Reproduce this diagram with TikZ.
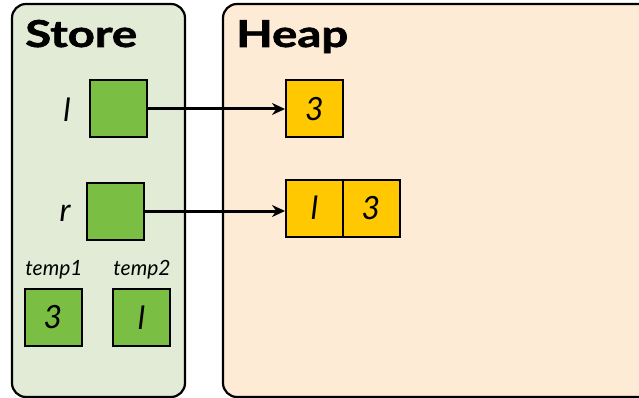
\documentclass[tikz,border=0pt]{standalone}
\usepackage{fontspec}
\setmainfont{Lato}[BoldFeatures={FakeBold=1.5}]
\usetikzlibrary{arrows.meta}
\definecolor{storebg}{HTML}{E1EBD6}
\definecolor{heapbg}{HTML}{FDEBD5}
\definecolor{cellgreen}{HTML}{7ABE43}
\definecolor{cellyellow}{HTML}{FFC800}
\tikzset{
  region/.style={draw=black, line width=2.2pt, rounded corners=14pt},
  title/.style={font=\fontsize{37}{40}\selectfont\bfseries, anchor=base west, inner sep=0pt, xscale=1.28, transform shape},
  var/.style={font=\fontsize{32}{36}\selectfont\itshape, inner sep=0pt},
  small/.style={font=\fontsize{21}{24}\selectfont\itshape, inner sep=0pt},
  gcell/.style={draw=black, line width=2pt, fill=cellgreen, minimum width=57pt, minimum height=57pt, inner sep=0pt, font=\fontsize{32}{36}\selectfont\itshape},
  ycell/.style={draw=black, line width=2pt, fill=cellyellow, minimum width=57pt, minimum height=57pt, inner sep=0pt, font=\fontsize{32}{36}\selectfont\itshape},
  ptr/.style={draw=black, line width=3pt, -{Stealth[length=13pt,width=12pt]}}
}
\begin{document}
\begin{tikzpicture}[x=1pt,y=-1pt]
\useasboundingbox (0,0) rectangle (639,398);
\fill[white] (0,0) rectangle (639,398);
% regions
\draw[region, fill=storebg] (12,4) rectangle (185,397);
\draw[region, fill=heapbg] (223,4) rectangle (660,397);
\node[title] (storet) at (25,47) {Store};
\node[title] (heapt) at (236,47) {Heap};
% store cells
\node[gcell] (l) at (118.5,109) {};
\node[var] (ll) at (67,110) {l};
\node[gcell] (r) at (115.5,211) {};
\node[var] (rl) at (65,213) {r};
\node[small] (t1l) at (54,270) {temp1};
\node[small] (t2l) at (142,270) {temp2};
\node[gcell] (t1) at (53,317.5) {3};
\node[gcell] (t2) at (141.5,317.5) {l};
% heap cells
\node[ycell] (h1) at (314.5,109) {3};
\node[ycell] (h2a) at (314.5,208) {l};
\node[ycell] (h2b) at (371,208) {3};
% pointers
\draw[ptr] (l.east) -- (h1.west);
\draw[ptr] (r.east) -- (r.east -| h2a.west);
\end{tikzpicture}
\end{document}
